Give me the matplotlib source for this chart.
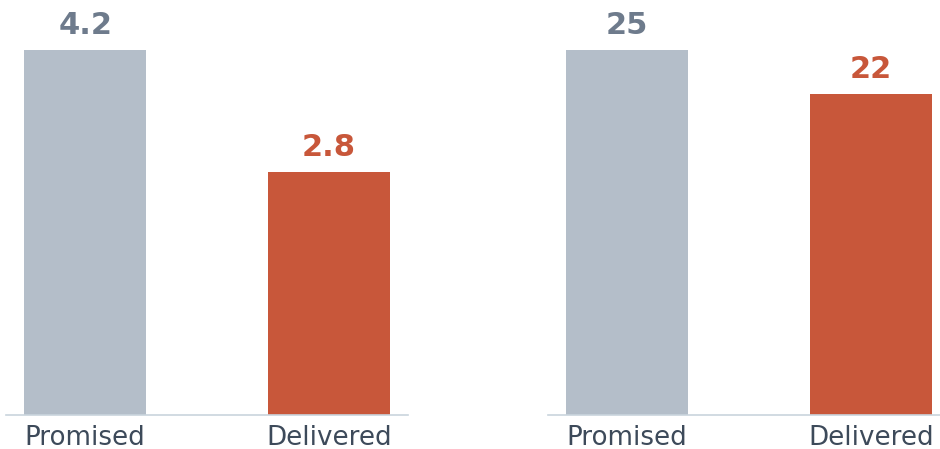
import numpy as np
import matplotlib.pyplot as plt

categories = ["Promised", "Delivered"]
left_values = [4.2, 2.8]
right_values = [25, 22]
left_labels = ["4.2", "2.8"]
right_labels = ["25", "22"]

bar_colors = ["#b4bec9", "#c8573a"]
text_colors = ["#6e7b8c", "#c8573a"]

fig = plt.figure(figsize=(9.4, 4.49), dpi=100)
ax1 = fig.add_axes([6 / 940, 34 / 449, 402 / 940, 415 / 449])
ax2 = fig.add_axes([548 / 940, 34 / 449, 402 / 940, 415 / 449])

for ax, vals, labs in [(ax1, left_values, left_labels), (ax2, right_values, right_labels)]:
    x = np.arange(len(categories))
    ax.bar(x, vals, width=0.5, color=bar_colors)
    ax.set_ylim(0, max(vals) * 415 / 365)
    for xi, v, lab, c in zip(x, vals, labs, text_colors):
        ax.annotate(lab, (xi, v), xytext=(0, 7), textcoords="offset points",
                    ha="center", va="bottom", fontsize=22, fontweight="bold", color=c)
    ax.set_xticks(x)
    ax.set_xticklabels(categories, fontsize=18.8, color="#3d4a5a")
    ax.tick_params(axis="x", length=0, pad=7)
    ax.set_yticks([])
    for s in ["top", "right", "left"]:
        ax.spines[s].set_visible(False)
    ax.spines["bottom"].set_color("#c9d4dd")
    ax.spines["bottom"].set_linewidth(1.2)

fig.savefig("out.png", dpi=100)
